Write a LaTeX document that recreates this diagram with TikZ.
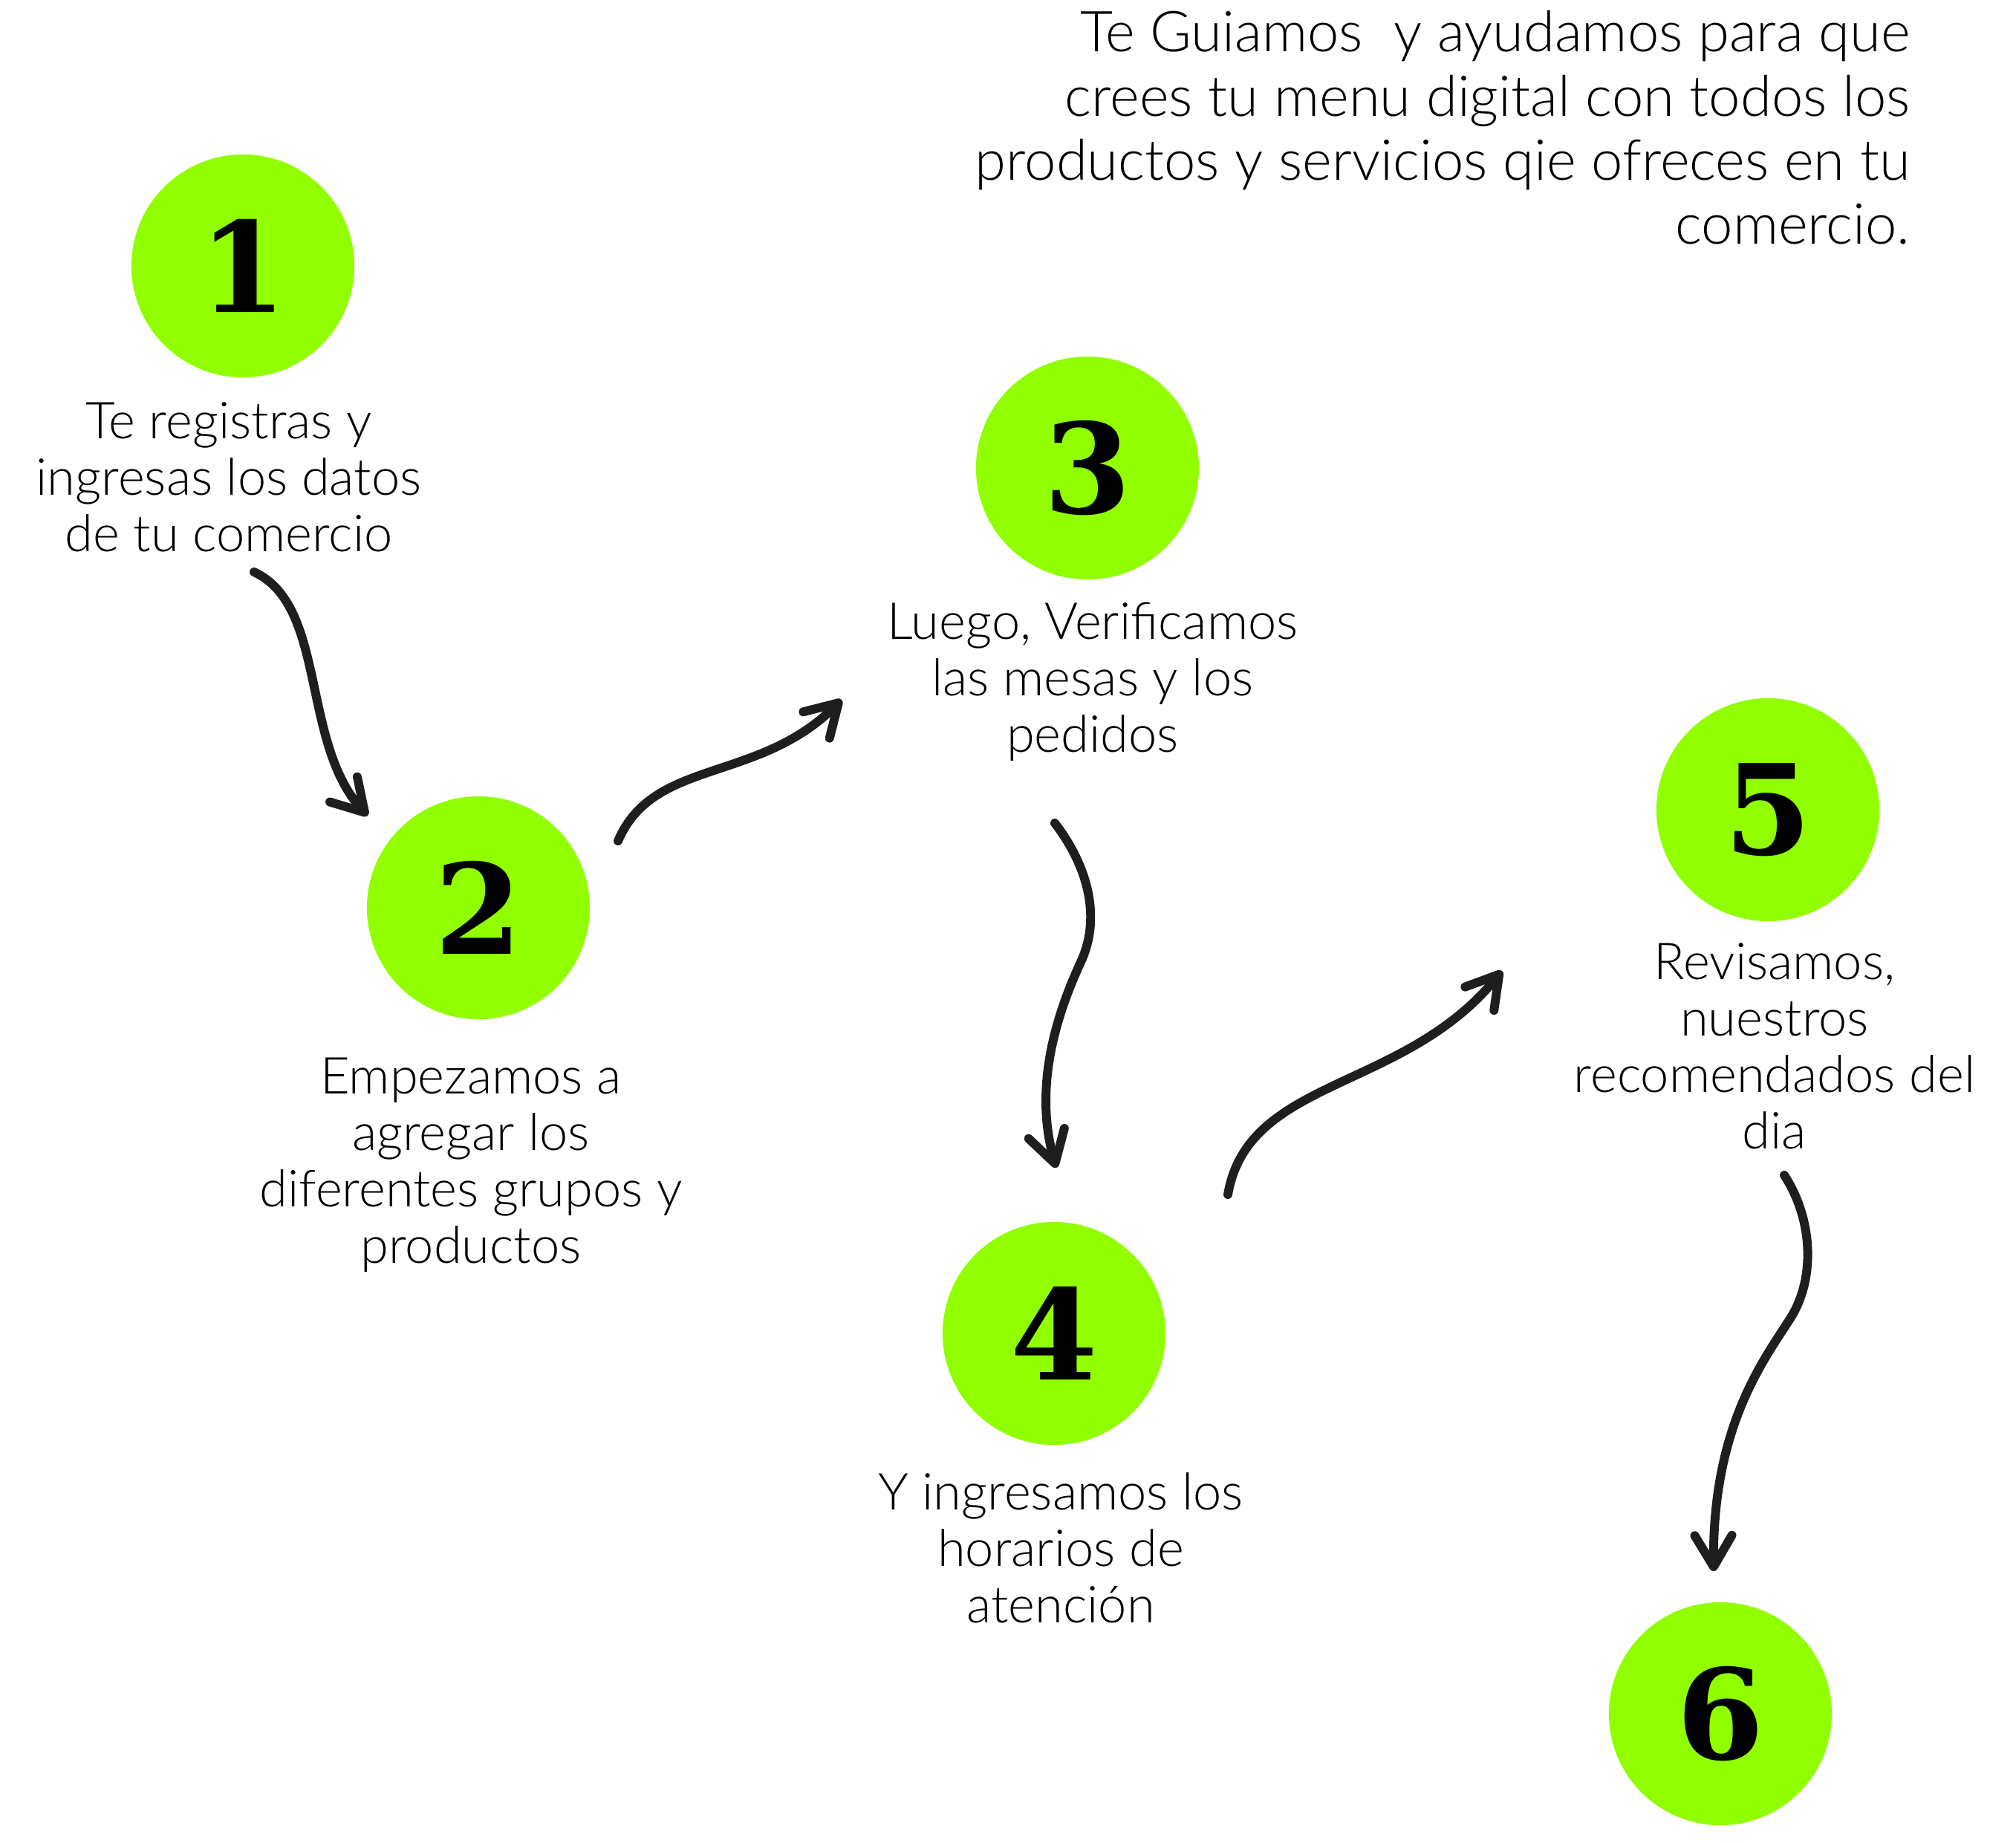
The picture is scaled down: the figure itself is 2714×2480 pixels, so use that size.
\documentclass[tikz,border=0pt]{standalone}
\usepackage{fontspec}
\setmainfont{Lato}[UprightFont=* Light]
\newfontfamily\numfont{DejaVu Serif}
\usetikzlibrary{arrows.meta}
\definecolor{verde}{RGB}{145,255,0}
\definecolor{tinta}{RGB}{30,30,30}

\begin{document}
\begin{tikzpicture}[x=0.01cm,y=-0.01cm]
   \tikzset{paso/.style={circle,fill=verde,minimum size=3cm,inner sep=0pt,font=\numfont\bfseries\fontsize{48}{48}\selectfont}};
   \tikzset{texto/.style={align=center,inner sep=0pt,font=\fontsize{19.5}{21.6}\selectfont}};
   \tikzset{flecha/.style={draw=tinta,line width=3.4pt,line cap=round,-{Straight Barb[length=4.2mm,width=5mm,round]}}};
   \useasboundingbox (0,0) rectangle (2714,2480);

\node[paso] (1) at (327,358) {1};
\node[paso] (2) at (644,1222) {2};
\node[paso] (3) at (1464,630) {3};
\node[paso] (4) at (1419,1795) {4};
\node[paso] (5) at (2380,1090) {5};
\node[paso] (6) at (2316,2307) {6};

\node[texto] (t1) at (308,642) {Te registras y\\ingresas los datos\\de tu comercio};
\node[texto] (t2) at (634,1568) {Empezamos a\\agregar los\\diferentes grupos y\\productos};
\node[texto] (t3) at (1471,918) {Luego, Verificamos\\las mesas y los\\pedidos};
\node[texto] (t4) at (1428,2084) {Y ingresamos los\\horarios de\\atención};
\node[texto] (t5) at (2389,1408) {Revisamos,\\nuestros\\recomendados del\\dia};
\node[align=right,inner sep=0pt,anchor=north east,font=\fontsize{21.6}{24.5}\selectfont] (intro) at (2572,14)
   {Te Guiamos ~y ayudamos para que\\crees tu menu digital con todos los\\productos y servicios qie ofreces en tu\\comercio.};

\coordinate (s1) at (342,770);   \coordinate (e1) at (495,1098);
\coordinate (s2) at (832,1132);  \coordinate (e2) at (1133,942);
\coordinate (s3) at (1420,1108); \coordinate (e3) at (1422,1572);
\coordinate (s4) at (1653,1608); \coordinate (e4) at (2022,1307);
\coordinate (s5) at (2402,1582); \coordinate (e5) at (2307,2115);

\draw[flecha] (s1) .. controls (440,815) and (405,1000) .. (e1);
\draw[flecha] (s2) .. controls (880,1020) and (1020,1055) .. (e2);
\draw[flecha] (s3) .. controls (1460,1160) and (1485,1230) .. (1455,1295)
                   .. controls (1425,1360) and (1390,1460) .. (e3);
\draw[flecha] (s4) .. controls (1680,1450) and (1890,1470) .. (e4);
\draw[flecha] (s5) .. controls (2440,1640) and (2445,1720) .. (2410,1775)
                   .. controls (2375,1830) and (2305,1920) .. (e5);

\end{tikzpicture}
\end{document}
